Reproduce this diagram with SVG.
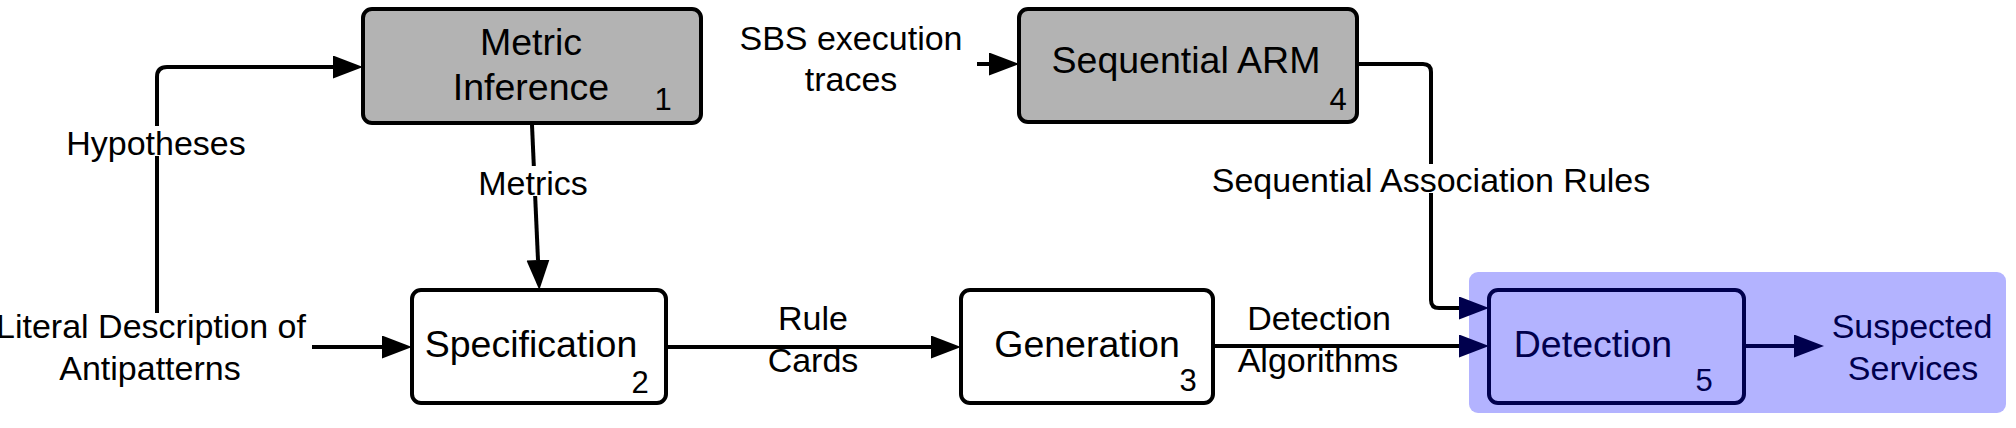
<svg xmlns="http://www.w3.org/2000/svg" width="2016" height="428" viewBox="0 0 2016 428">
<defs>
<style>
.node{stroke:#000;stroke-width:4;}
.gray{fill:#b3b3b3;}
.white{fill:#fff;}
.det{fill:#b3b3ff;stroke:#00004d;stroke-width:4;}
.t{font-family:"Liberation Sans",Arial,sans-serif;font-size:37.5px;fill:#000;text-anchor:middle;}
.n{font-family:"Liberation Sans",Arial,sans-serif;font-size:31px;fill:#000;text-anchor:middle;}
.l{font-family:"Liberation Sans",Arial,sans-serif;font-size:34px;fill:#000;text-anchor:middle;}
.navy{fill:#00004d;}
.c{fill:none;stroke:#000;stroke-width:4;}
.cn{fill:none;stroke:#00004d;stroke-width:4;}
.bg{fill:#fff;}
</style>
<marker id="ah" markerUnits="userSpaceOnUse" markerWidth="31" markerHeight="24" refX="0" refY="11.5" orient="auto" viewBox="0 0 31 24">
<path d="M0,0 L30,11.5 L0,23 z" fill="#000"/>
</marker>
<marker id="ahn" markerUnits="userSpaceOnUse" markerWidth="31" markerHeight="24" refX="0" refY="11.5" orient="auto" viewBox="0 0 31 24">
<path d="M0,0 L30,11.5 L0,23 z" fill="#00004d"/>
</marker>
</defs>
<rect width="2016" height="428" fill="#fff"/>
<g id="panel">
<rect x="1469" y="272" width="537" height="141" rx="9" fill="#b3b3ff"/>
</g>
<g id="connectors">
<path class="c" d="M157,313 V77 Q157,67 167,67 H333" marker-end="url(#ah)"/>
<path class="c" d="M532,125 L538,260" marker-end="url(#ah)"/>
<path class="c" d="M312,347 H382" marker-end="url(#ah)"/>
<path class="c" d="M666,347 H931" marker-end="url(#ah)"/>
<path class="c" d="M1213,346 H1459" marker-end="url(#ahn)"/>
<path class="c" d="M977,64 H989" marker-end="url(#ah)"/>
<path class="c" d="M1358,64 H1423 Q1431,64 1431,72 V300 Q1431,308 1439,308 H1459" marker-end="url(#ahn)"/>
<path class="cn" d="M1744,346 H1794" marker-end="url(#ahn)"/>
</g>
<g id="labels">
<rect class="bg" x="68" y="126" width="176" height="30"/>
<text class="l" x="156" y="155">Hypotheses</text>
<rect class="bg" x="479" y="166" width="108" height="30"/>
<text class="l" x="533" y="195">Metrics</text>
<rect class="bg" x="1214" y="164" width="434" height="29"/>
<text class="l" x="1431" y="192">Sequential Association Rules</text>
<text class="l" x="851" y="50">SBS execution</text>
<text class="l" x="851" y="91">traces</text>
<text class="l" x="151" y="338">Literal Description of</text>
<text class="l" x="150" y="380">Antipatterns</text>
<text class="l" x="813" y="330">Rule</text>
<text class="l" x="813" y="372">Cards</text>
<text class="l" x="1319" y="330">Detection</text>
<text class="l" x="1318" y="372">Algorithms</text>
<text class="l navy" x="1912" y="338">Suspected</text>
<text class="l navy" x="1913" y="380">Services</text>
</g>
<g id="node1">
<rect class="node gray" x="363" y="9" width="338" height="114" rx="9"/>
<text class="t" x="531" y="55">Metric</text>
<text class="t" x="531" y="100">Inference</text>
<text class="n" x="663" y="110">1</text>
</g>
<g id="node2">
<rect class="node white" x="412" y="290" width="254" height="113" rx="9"/>
<text class="t" x="531" y="357">Specification</text>
<text class="n" x="640" y="393">2</text>
</g>
<g id="node3">
<rect class="node white" x="961" y="290" width="252" height="113" rx="9"/>
<text class="t" x="1087" y="357">Generation</text>
<text class="n" x="1188" y="391">3</text>
</g>
<g id="node4">
<rect class="node gray" x="1019" y="9" width="338" height="113" rx="9"/>
<text class="t" x="1186" y="73">Sequential ARM</text>
<text class="n" x="1338" y="110">4</text>
</g>
<g id="node5">
<rect class="det" x="1489" y="290" width="255" height="113" rx="9"/>
<text class="t navy" x="1593" y="357">Detection</text>
<text class="n navy" x="1704" y="391">5</text>
</g>
</svg>
